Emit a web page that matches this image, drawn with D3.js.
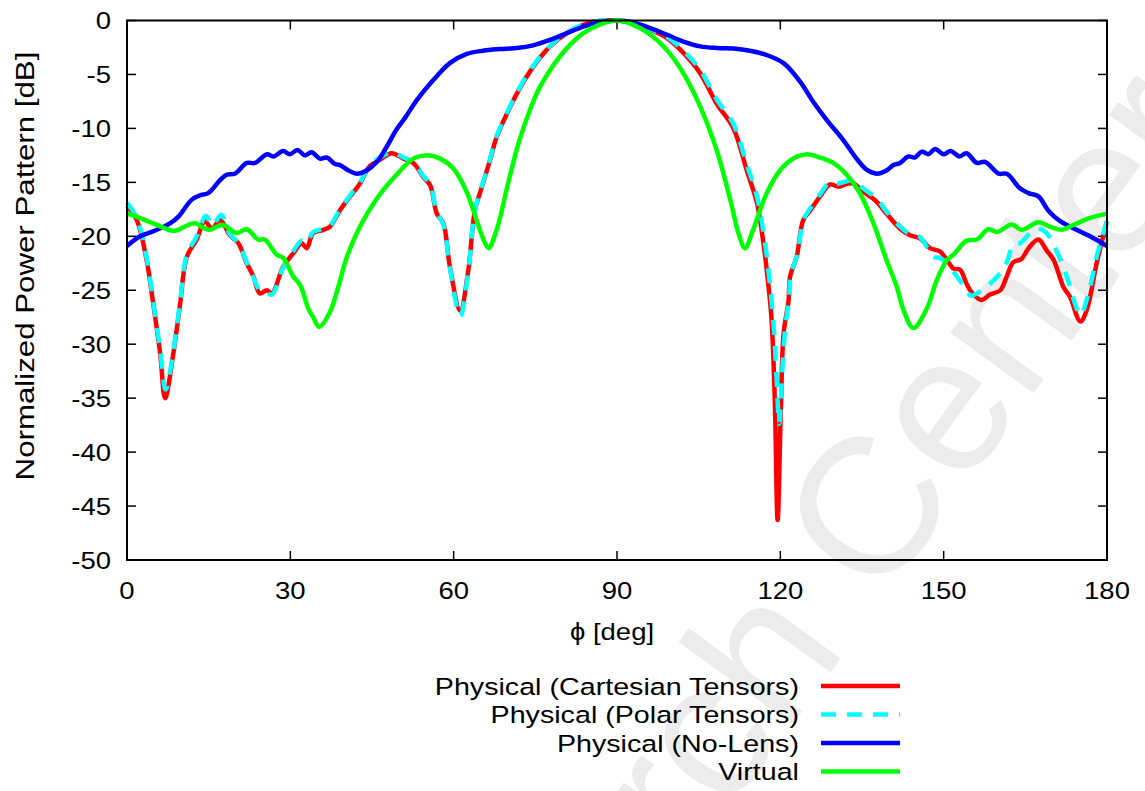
<!DOCTYPE html>
<html>
<head>
<meta charset="utf-8">
<script src="https://cdn.jsdelivr.net/npm/d3@7"></script>
<style>
  body { margin:0; background:#fff; }
  text { font-family:'Liberation Sans', Arial, sans-serif; fill:#000; }
</style>
</head>
<body>
<div id="plot"></div>
<script>
// ---- data (phi in deg, level in dB) ----
var xTicks = [0,30,60,90,120,150,180];
var yTicks = [0,-5,-10,-15,-20,-25,-30,-35,-40,-45,-50];

var cartesian = [[0,-17.2],[1.8,-18.5],[3.6,-22.2],[4.8,-26.2],[6.1,-30.9],[7.0,-35.0],[8.5,-30.9],[9.7,-26.5],[11.0,-21.9],[12.8,-20.3],[14.3,-18.6],[15.6,-19.3],[17.1,-18.5],[18.9,-19.9],[20.4,-20.6],[22.0,-22.5],[23.2,-23.7],[24.4,-25.3],[25.7,-25.0],[26.6,-25.3],[28.7,-22.8],[30.5,-21.6],[32.1,-20.65],[33.0,-21.1],[34.2,-19.7],[36.1,-19.4],[37.3,-19.1],[39.1,-17.6],[41.0,-16.3],[42.8,-15.1],[44.6,-13.5],[46.5,-12.9],[48.6,-12.3],[50.8,-12.8],[52.6,-13.2],[54.4,-14.5],[55.7,-15.3],[56.9,-17.9],[58.1,-18.8],[59.3,-22.8],[61.2,-26.9],[62.7,-23.1],[63.9,-17.6],[65.2,-15.4],[66.7,-12.9],[67.9,-10.8],[70.4,-8.0],[71.9,-6.5],[74.6,-4.3],[77.7,-2.4],[80.8,-1.17],[83.8,-0.4],[86.9,-0.03],[90,0],[93,-0.25],[96.1,-0.86],[99.1,-1.6],[102.2,-3.0],[105.3,-4.9],[108.3,-7.7],[111.4,-10.0],[113.8,-13.85],[115.7,-16.9],[116.9,-20.65],[117.8,-24.5],[118.4,-27.8],[119.0,-35.5],[119.5,-46.3],[120.1,-36],[120.6,-29.0],[121.5,-26],[121.8,-23.7],[123.0,-21.9],[124.2,-18.5],[125.5,-17.6],[127.3,-16.3],[129.1,-15.2],[130.7,-15.4],[132.2,-15.15],[133.4,-15.1],[135.3,-15.9],[137.7,-16.8],[139.5,-17.9],[142.0,-19.3],[143.8,-19.9],[145.7,-20.2],[147.5,-21.1],[149.3,-21.4],[150.6,-22.2],[151.8,-23.0],[153.0,-23.1],[154.2,-24.4],[155.0,-25.1],[156.9,-25.9],[158.5,-25.4],[160.4,-25.0],[161.6,-23.7],[162.8,-22.4],[164.3,-22.1],[165.6,-21.1],[167.4,-20.3],[168.9,-21.3],[170.2,-22.2],[172.0,-24.7],[173.2,-25.6],[175.1,-27.9],[176.3,-26.8],[178.1,-22.5],[180,-18.6]];

var polar = [[0,-16.9],[1.8,-18.3],[3.6,-22.0],[4.8,-26.0],[6.1,-30.6],[7.1,-34.2],[8.5,-30.7],[9.7,-26.3],[11.0,-21.7],[12.8,-20.0],[14.5,-18.1],[15.7,-19.0],[17.3,-18.0],[18.9,-19.8],[20.4,-20.6],[22.0,-22.4],[23.2,-23.8],[24.4,-25.0],[25.5,-25.2],[26.6,-25.4],[28.7,-22.9],[30.5,-21.4],[32.1,-20.4],[33.0,-20.6],[34.2,-19.6],[36.1,-19.3],[37.3,-19.0],[39.1,-17.5],[41.0,-16.2],[42.8,-15.0],[44.6,-13.4],[46.5,-12.7],[48.6,-12.2],[50.8,-12.7],[52.6,-13.1],[54.4,-14.4],[55.7,-15.2],[56.9,-17.8],[58.1,-18.9],[59.3,-22.9],[61.2,-27.4],[62.7,-23.2],[63.9,-17.6],[65.2,-15.3],[66.7,-12.8],[67.9,-10.7],[70.4,-7.9],[71.9,-6.4],[74.6,-4.2],[77.7,-2.35],[80.8,-1.1],[83.8,-0.38],[86.9,-0.03],[90,0],[93,-0.22],[96.1,-0.8],[99.1,-1.5],[102.2,-2.8],[105.3,-4.6],[108.3,-7.3],[111.4,-9.6],[113.8,-13.3],[115.7,-16.3],[117.1,-20.3],[118.1,-24.5],[118.8,-28.5],[119.3,-33],[119.8,-37.4],[120.3,-33],[120.9,-28.5],[121.6,-25.8],[121.9,-23.6],[123.1,-21.7],[124.3,-18.4],[125.5,-17.4],[127.3,-16.1],[129.1,-15.0],[130.7,-15.1],[132.2,-14.9],[133.4,-14.8],[135.3,-15.6],[137.7,-16.5],[139.5,-17.7],[142.0,-19.1],[143.8,-19.8],[145.7,-20.1],[148.1,-21.9],[149.3,-22.0],[150.6,-22.5],[152.4,-23.7],[154.0,-24.8],[155.0,-25.5],[156.7,-25.1],[158.5,-24.4],[160.4,-23.4],[161.6,-22.4],[162.8,-20.8],[164.0,-20.65],[165.9,-19.7],[167.4,-19.3],[168.9,-19.7],[170.7,-21.3],[172.6,-23.7],[174.1,-26.2],[175.1,-27.3],[176.6,-25.3],[178.1,-21.9],[180,-18.6]];

var noLens = [[0,-20.9],[2.4,-20.0],[5,-19.5],[7.9,-18.8],[9.4,-18.2],[11.9,-16.6],[13.4,-16.2],[14.9,-16.0],[17.1,-14.8],[18.3,-14.3],[19.8,-14.2],[22.0,-13.2],[23.5,-13.2],[25.7,-12.4],[26.9,-12.6],[28.7,-12.1],[29.9,-12.4],[31.3,-12.0],[32.7,-12.5],[33.9,-12.2],[35.4,-12.8],[36.7,-12.7],[38.2,-13.3],[39.1,-13.4],[40.7,-13.9],[42.2,-14.2],[44.0,-13.9],[45.9,-13.1],[47.7,-11.7],[49.5,-10.1],[51.1,-9.0],[53.2,-7.4],[56.3,-5.5],[59.3,-3.95],[62.4,-3.1],[65.4,-2.8],[68.5,-2.65],[71.6,-2.55],[74.6,-2.3],[77.7,-1.8],[80.8,-1.17],[83.8,-0.56],[86.9,-0.15],[90,0],[93,-0.18],[96.1,-0.7],[99.1,-1.3],[102.2,-1.95],[105.3,-2.4],[108.3,-2.55],[111.4,-2.6],[114.4,-2.8],[117.5,-3.2],[120.6,-3.95],[123.6,-5.65],[126,-7.5],[128.5,-9.2],[131.6,-11.1],[134.0,-12.8],[135.9,-13.85],[137.7,-14.2],[139.5,-13.9],[140.8,-13.4],[142.0,-13.2],[143.5,-12.6],[144.7,-12.7],[146.0,-12.15],[147.2,-12.4],[148.4,-11.9],[150.0,-12.4],[151.3,-12.1],[152.9,-12.6],[154.2,-12.3],[156.1,-13.2],[157.6,-13.1],[160.1,-14.2],[161.6,-14.2],[164.0,-15.55],[165.6,-16.0],[167.4,-16.3],[169.2,-17.6],[171.4,-18.6],[174.4,-19.4],[176.9,-20.0],[180,-20.9]];

var virtual = [[0,-17.9],[1.8,-18.2],[4.8,-18.8],[8.5,-19.5],[9.4,-19.4],[11,-19.0],[12.5,-18.8],[14,-19.2],[15.2,-19.4],[16.5,-19.1],[17.7,-18.95],[20.1,-19.7],[22.0,-19.35],[24.1,-20.3],[25.3,-20.3],[27.5,-21.7],[28.7,-22.0],[30.5,-23.7],[31.8,-24.5],[33.3,-26.7],[34.2,-27.5],[35.3,-28.4],[37.3,-27.0],[38.8,-24.7],[40.4,-21.9],[42.8,-19.1],[45.9,-16.5],[49.5,-14.3],[52.6,-12.8],[55.0,-12.5],[57.5,-12.8],[59.9,-13.7],[62.4,-15.9],[64.2,-18.5],[65.4,-20.2],[66.4,-21.1],[67.9,-19.4],[70.0,-15.1],[71.9,-11.4],[74.0,-8.3],[75.6,-6.4],[77.7,-4.6],[80.8,-2.56],[83.8,-1.17],[86.9,-0.35],[90,0],[93,-0.4],[96.1,-1.3],[99.1,-2.7],[102.2,-4.9],[105.3,-8.0],[108.3,-12.0],[110.8,-16.6],[112.3,-19.7],[113.5,-21.1],[115.0,-19.4],[117.5,-16.0],[120.0,-13.85],[122.7,-12.7],[124.9,-12.4],[127.3,-12.7],[129.7,-13.2],[132.2,-14.3],[134.6,-16.0],[137.1,-18.8],[139.5,-22.2],[141.4,-24.7],[142.6,-26.8],[144.4,-28.5],[146.9,-26.7],[148.7,-24.1],[150.6,-22.2],[151.8,-21.7],[154.2,-20.4],[156.1,-20.3],[158.2,-19.35],[159.8,-19.6],[162.5,-18.9],[164.3,-19.4],[167.4,-18.7],[169.5,-19.1],[171.7,-19.4],[173.8,-18.95],[176.9,-18.3],[180,-17.9]];

var seriesNames = ['Physical (Cartesian Tensors)','Physical (Polar Tensors)','Physical (No-Lens)','Virtual'];
var seriesData = [cartesian, polar, noLens, virtual];
var seriesColors = ['#ff0000','#00ffff','#0000ff','#00ff00'];
var seriesDash = [null,'15,11',null,null];

// ---- layout ----
var W = 1145, H = 791;
var margin = {t:20.5, l:127, r:38, b:231};
var width = W - margin.l - margin.r,
    height = H - margin.t - margin.b;
var fs = 23.5;     // font size
var sx = 1.17;     // text in the picture is drawn wide

var svg = d3.select('#plot').append('svg')
  .attr('width', W).attr('height', H);

// put a text at (px,py), optionally rotated, stretched along its run
function label(parent, px, py, str, anchor, rot, size, k) {
  return parent.append('text')
    .attr('transform','translate('+px+','+py+')'+(rot ? ' rotate('+rot+')' : '')+' scale('+(k||sx)+',1)')
    .attr('text-anchor', anchor)
    .style('font-size', (size||fs)+'px')
    .text(str);
}

// faint watermark behind everything
svg.append('text')
  .attr('transform','translate(360,1320) rotate(-54)')
  .style('font-size','194px')
  .style('fill','#ececec')
  .text('Research Center');

var plot = svg.append('g')
  .attr('transform','translate('+margin.l+','+margin.t+')');

var x = d3.scaleLinear().domain([0,180]).range([0,width]);
var y = d3.scaleLinear().domain([-50,0]).range([height,0]);

// ticks on all four sides, pointing in
var tl = 9;
plot.selectAll('.xtb').data(xTicks).enter().append('line')
  .attr('x1',d=>x(d)).attr('x2',d=>x(d)).attr('y1',height).attr('y2',height-tl)
  .attr('stroke','#000').attr('stroke-width',1.5);
plot.selectAll('.xtt').data(xTicks).enter().append('line')
  .attr('x1',d=>x(d)).attr('x2',d=>x(d)).attr('y1',0).attr('y2',tl)
  .attr('stroke','#000').attr('stroke-width',1.5);
plot.selectAll('.ytl').data(yTicks).enter().append('line')
  .attr('x1',0).attr('x2',tl).attr('y1',d=>y(d)).attr('y2',d=>y(d))
  .attr('stroke','#000').attr('stroke-width',1.5);
plot.selectAll('.ytr').data(yTicks).enter().append('line')
  .attr('x1',width).attr('x2',width-tl).attr('y1',d=>y(d)).attr('y2',d=>y(d))
  .attr('stroke','#000').attr('stroke-width',1.5);

// tick labels
xTicks.forEach(function(d) {
  label(plot, x(d), height+38.5, d, 'middle');
});
yTicks.forEach(function(d) {
  label(plot, -16, y(d)+8.5, d, 'end');
});

// axis titles
label(plot, x(90)-5, height+80, '\u03D5 [deg]', 'middle');
label(svg, 34, 266, 'Normalized Power Pattern [dB]', 'middle', -90, 25, 1.25);

// curves
var line = d3.line()
  .x(d=>x(d[0])).y(d=>y(d[1]))
  .curve(d3.curveCatmullRom.alpha(0.5));

seriesData.forEach(function(data,i) {
  plot.append('path')
    .datum(data)
    .attr('d', line)
    .attr('fill','none')
    .attr('stroke', seriesColors[i])
    .attr('stroke-width', 4.5)
    .attr('stroke-linejoin','round')
    .attr('stroke-dasharray', seriesDash[i]);
});

// frame
plot.append('rect')
  .attr('width',width).attr('height',height)
  .attr('fill','none').attr('stroke','#000').attr('stroke-width',2);

// legend
var legend = svg.append('g');
seriesNames.forEach(function(name,i) {
  var ly = 686 + i*28.5;
  label(legend, 799, ly+8.5, name, 'end', 0, fs, 1.22);
  legend.append('line')
    .attr('x1',821).attr('x2',900).attr('y1',ly).attr('y2',ly)
    .attr('stroke',seriesColors[i]).attr('stroke-width',4.5)
    .attr('stroke-dasharray',seriesDash[i]);
});
</script>
</body>
</html>
